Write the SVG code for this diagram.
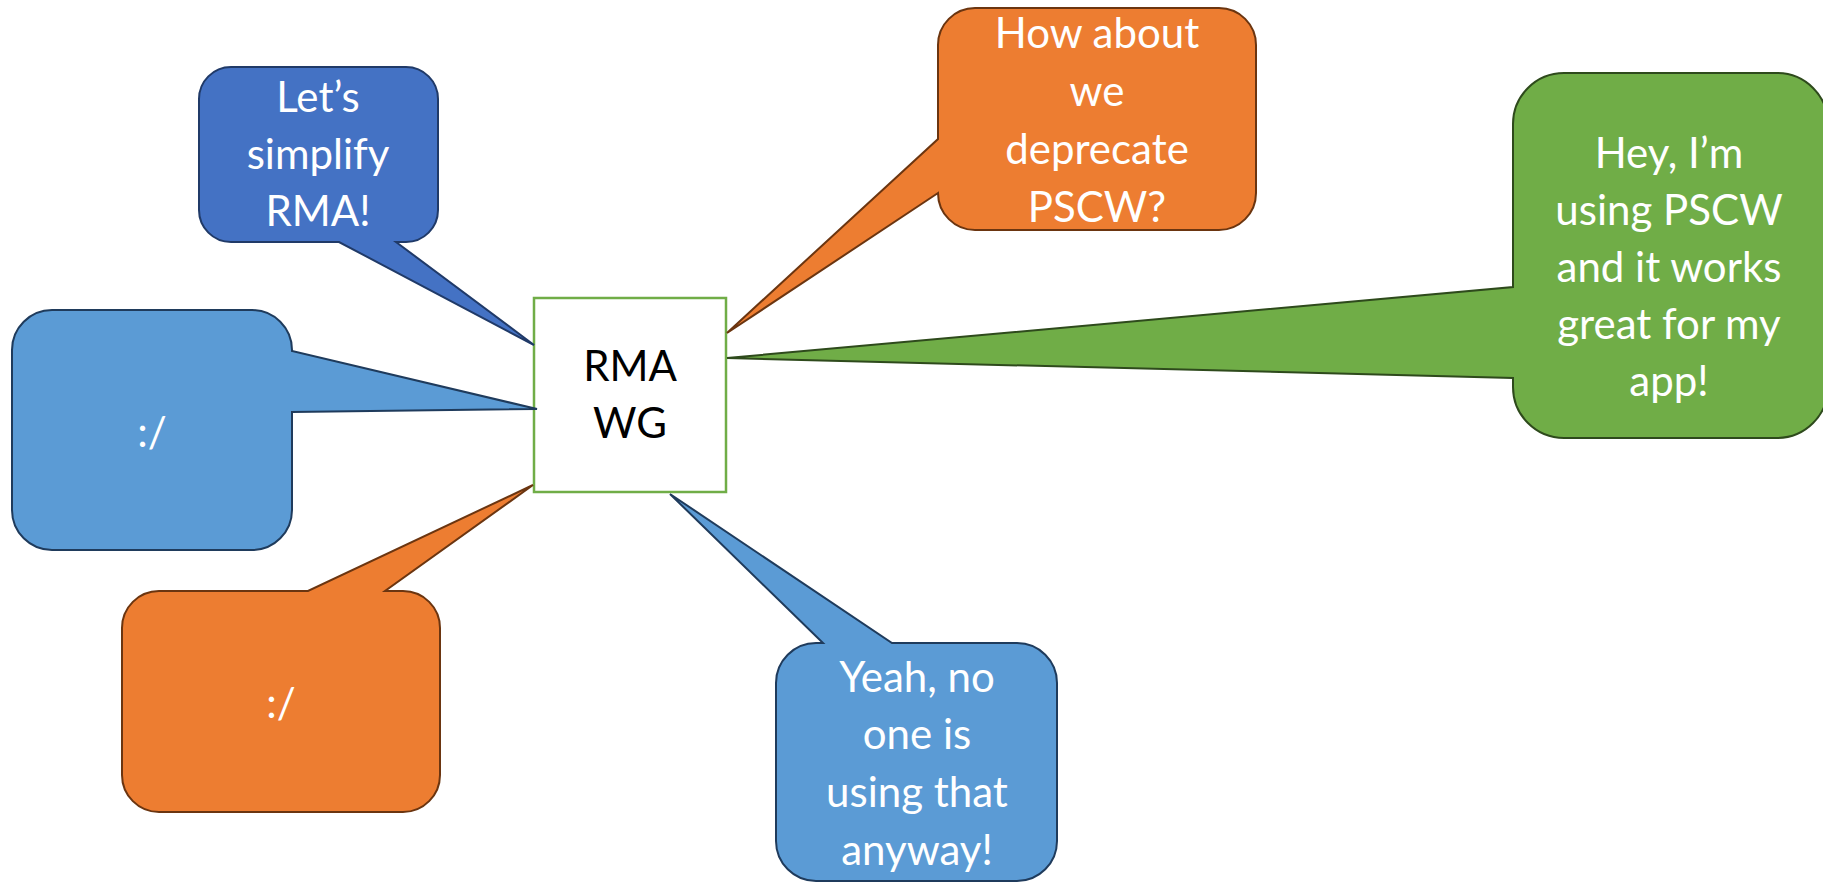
<svg xmlns="http://www.w3.org/2000/svg" width="1823" height="883" viewBox="0 0 1823 883">
<style>
.t{font-family:Lato,"Open Sans","Liberation Sans",sans-serif;font-size:42px;fill:#fff;text-anchor:middle}
.tb{font-family:Lato,"Open Sans","Liberation Sans",sans-serif;font-size:42px;fill:#000;text-anchor:middle}
.b1{fill:#4472C4;stroke:#203A68;stroke-width:2;stroke-linejoin:miter}
.b2{fill:#5B9BD5;stroke:#1F3B5C;stroke-width:2}
.o{fill:#ED7D31;stroke:#6B3510;stroke-width:2}
.g{fill:#70AD47;stroke:#2E4A1C;stroke-width:2}
</style>
<rect width="1823" height="883" fill="#fff"/>
<g id="rma-wg">
<rect x="534" y="298" width="192" height="194" fill="#fff" stroke="#70AD47" stroke-width="2.5"/>
<text class="tb" x="630" y="381">RMA</text>
<text class="tb" x="630" y="438">WG</text>
</g>
<g id="callout-simplify">
<path class="b1" d="M231,67 H406 A32 32 0 0 1 438,99 V210 A32 32 0 0 1 406,242 H396 L534,345 L339,242 H231 A32 32 0 0 1 199,210 V99 A32 32 0 0 1 231,67 Z"/>
<text class="t" x="318" y="112">Let’s</text>
<text class="t" x="318" y="169">simplify</text>
<text class="t" x="318" y="226">RMA!</text>
</g>
<g id="callout-left-blue">
<path class="b2" d="M52,310 H252 A40 40 0 0 1 292,350 V351 L537,409 L292,412 V510 A40 40 0 0 1 252,550 H52 A40 40 0 0 1 12,510 V350 A40 40 0 0 1 52,310 Z"/>
<text class="t" x="152" y="447">:/</text>
</g>
<g id="callout-left-orange">
<path class="o" d="M159,591 H308 L533,485 L385,591 H403 A37 37 0 0 1 440,628 V775 A37 37 0 0 1 403,812 H159 A37 37 0 0 1 122,775 V628 A37 37 0 0 1 159,591 Z"/>
<text class="t" x="281" y="718">:/</text>
</g>
<g id="callout-deprecate">
<path class="o" d="M975,8 H1219 A37 37 0 0 1 1256,45 V193 A37 37 0 0 1 1219,230 H975 A37 37 0 0 1 938,193 L727,333 L938,139 V45 A37 37 0 0 1 975,8 Z"/>
<text class="t" x="1097" y="48">How about</text>
<text class="t" x="1097" y="106">we</text>
<text class="t" x="1097" y="164">deprecate</text>
<text class="t" x="1097" y="222">PSCW?</text>
</g>
<g id="callout-using">
<path class="g" d="M1564,73 H1777 A51 51 0 0 1 1828,124 V387 A51 51 0 0 1 1777,438 H1564 A51 51 0 0 1 1513,387 V378 L727,358 L1513,287 V124 A51 51 0 0 1 1564,73 Z"/>
<text class="t" x="1669" y="168">Hey, I’m</text>
<text class="t" x="1669" y="225">using PSCW</text>
<text class="t" x="1669" y="282">and it works</text>
<text class="t" x="1669" y="339">great for my</text>
<text class="t" x="1669" y="396">app!</text>
</g>
<g id="callout-noone">
<path class="b2" d="M816,643 H823 L670,494 L892,643 H1017 A40 40 0 0 1 1057,683 V841 A40 40 0 0 1 1017,881 H816 A40 40 0 0 1 776,841 V683 A40 40 0 0 1 816,643 Z"/>
<text class="t" x="917" y="692">Yeah, no</text>
<text class="t" x="917" y="749">one is</text>
<text class="t" x="917" y="807">using that</text>
<text class="t" x="917" y="865">anyway!</text>
</g>
</svg>
